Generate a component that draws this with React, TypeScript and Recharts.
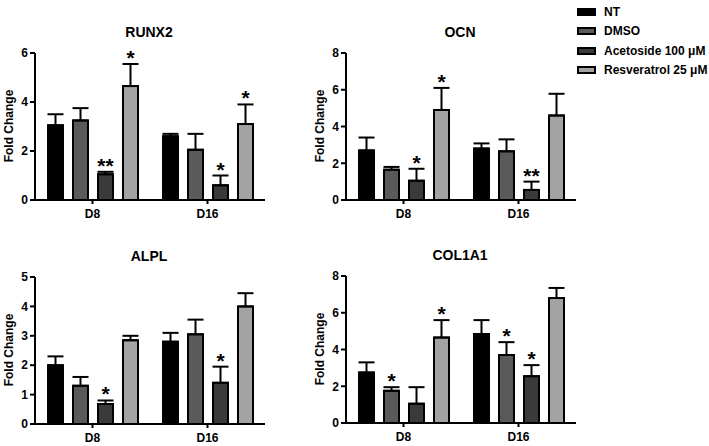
import { BarChart, Bar, XAxis, YAxis, ErrorBar, LabelList } from 'recharts'

const groups = ['D8', 'D16']
const seriesNames = ['NT', 'DMSO', 'Acetoside 100 μM', 'Resveratrol 25 μM']
const fills = ['#000000', '#5a5a5a', '#3a3a3a', '#a3a3a3']

// per group: [NT, DMSO, Acetoside, Resveratrol]
const runx2Mean = [[3.05, 3.25, 1.05, 4.65], [2.6, 2.05, 0.6, 3.1]]
const runx2Sd = [[0.45, 0.5, 0.1, 0.9], [0.1, 0.65, 0.4, 0.8]]
const runx2Stars = [['', '', '**', '*'], ['', '', '*', '*']]

const ocnMean = [[2.7, 1.65, 1.05, 4.9], [2.8, 2.65, 0.55, 4.6]]
const ocnSd = [[0.7, 0.15, 0.65, 1.2], [0.28, 0.65, 0.45, 1.18]]
const ocnStars = [['', '', '*', '*'], ['', '', '**', '']]

const alplMean = [[2.0, 1.3, 0.68, 2.85], [2.8, 3.05, 1.4, 4.0]]
const alplSd = [[0.3, 0.3, 0.12, 0.15], [0.3, 0.5, 0.55, 0.45]]
const alplStars = [['', '', '*', ''], ['', '', '*', '']]

const col1a1Mean = [[2.75, 1.75, 1.05, 4.65], [4.84, 3.7, 2.55, 6.8]]
const col1a1Sd = [[0.55, 0.2, 0.9, 0.95], [0.76, 0.7, 0.6, 0.55]]
const col1a1Stars = [['', '*', '', '*'], ['', '*', '*', '']]

const runx2Ticks = [0, 2, 4, 6]
const ocnTicks = [0, 2, 4, 6, 8]
const alplTicks = [0, 1, 2, 3, 4, 5]
const col1a1Ticks = [0, 2, 4, 6, 8]

const FONT = '"Liberation Sans", Arial, sans-serif'
const tickStyle = { fill: '#000', fontSize: 12, fontWeight: 700, fontFamily: FONT }

type PanelProps = {
  title: string
  mean: number[][]
  sd: number[][]
  stars: string[][]
  ticks: number[]
  left: number
  top: number
}

function Panel({ title, mean, sd, stars, ticks, left, top }: PanelProps) {
  const rows = groups.map((g, i) => {
    const r: any = { group: g }
    seriesNames.forEach((_, k) => {
      r['v' + k] = mean[i][k]
      r['e' + k] = [0, sd[i][k]]
      r['s' + k] = stars[i][k]
    })
    return r
  })

  const star = (k: number) => (props: any) => {
    const { x, y, width, height, value, index } = props
    if (!value) return null
    const m = mean[index][k]
    const errTop = y - (sd[index][k] * height) / m
    return (
      <text
        x={x + width / 2}
        y={errTop + 1}
        textAnchor="middle"
        fontSize={21}
        fontWeight={700}
        fontFamily={FONT}
        fill="#000"
      >
        {value}
      </text>
    )
  }

  return (
    <div style={{ position: 'absolute', left, top, width: 272, height: 225 }}>
      <div style={{
        position: 'absolute', left: 35, width: 228, top: 24, textAlign: 'center',
        fontSize: 14, fontWeight: 700, lineHeight: '16px',
      }}>{title}</div>
      <div style={{
        position: 'absolute', left: 9 - 60, top: 126 - 8, width: 120, height: 16,
        textAlign: 'center', transform: 'rotate(-90deg)', fontSize: 12, fontWeight: 700,
        lineHeight: '16px', whiteSpace: 'nowrap',
      }}>Fold Change</div>
      <BarChart
        width={272}
        height={225}
        data={rows}
        margin={{ top: 53, right: 7, bottom: 5, left: 0 }}
        barSize={15}
        barGap={10}
        barCategoryGap={12}
        style={{ position: 'absolute', left: 0, top: 0 }}
      >
        <XAxis
          dataKey="group"
          tick={tickStyle}
          axisLine={{ stroke: '#000', strokeWidth: 2 }}
          tickLine={{ stroke: '#000', strokeWidth: 2 }}
          tickSize={4}
          tickMargin={5}
          height={20}
        />
        <YAxis
          domain={[0, ticks[ticks.length - 1]]}
          ticks={ticks}
          interval={0}
          width={35}
          tick={tickStyle}
          axisLine={{ stroke: '#000', strokeWidth: 2 }}
          tickLine={{ stroke: '#000', strokeWidth: 2 }}
          tickSize={5}
        />
        {seriesNames.map((name, k) => (
          <Bar
            key={name}
            dataKey={'v' + k}
            name={name}
            fill={fills[k]}
            stroke="#000"
            strokeWidth={2}
            isAnimationActive={false}
          >
            <ErrorBar dataKey={'e' + k} direction="y" width={8} stroke="#000" strokeWidth={2} />
            <LabelList dataKey={'s' + k} content={star(k)} />
          </Bar>
        ))}
      </BarChart>
    </div>
  )
}

function Legend() {
  return (
    <div style={{ position: 'absolute', left: 577, top: 2 }}>
      {seriesNames.map((name, k) => (
        <div key={name} style={{ display: 'flex', alignItems: 'center', height: 19.5 }}>
          <div style={{
            width: k === 0 ? 19 : 15, height: k === 0 ? 8 : 4, background: fills[k],
            border: k === 0 ? 'none' : '2px solid #000', marginRight: 8,
          }} />
          <span style={{ fontSize: 12, fontWeight: 700 }}>{name}</span>
        </div>
      ))}
    </div>
  )
}

export default function App() {
  return (
    <div style={{
      position: 'absolute', left: 0, top: 0, width: 709, height: 446,
      background: '#fff', fontFamily: FONT, color: '#000', overflow: 'hidden',
    }}>
      <Panel title="RUNX2" mean={runx2Mean} sd={runx2Sd} stars={runx2Stars} ticks={runx2Ticks} left={0} top={0} />
      <Panel title="OCN" mean={ocnMean} sd={ocnSd} stars={ocnStars} ticks={ocnTicks} left={311} top={0} />
      <Panel title="ALPL" mean={alplMean} sd={alplSd} stars={alplStars} ticks={alplTicks} left={0} top={224} />
      <Panel title="COL1A1" mean={col1a1Mean} sd={col1a1Sd} stars={col1a1Stars} ticks={col1a1Ticks} left={311} top={223} />
      <Legend />
    </div>
  )
}
